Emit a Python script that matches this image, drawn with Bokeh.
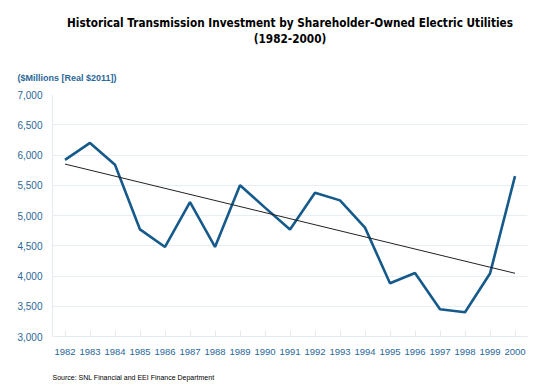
from bokeh.plotting import figure
from bokeh.models import Range1d, Title, NumeralTickFormatter
from bokeh.embed import file_html
from bokeh.resources import INLINE

years = [str(y) for y in range(1982, 2001)]
investment = [5920, 6200, 5840, 4770, 4480, 5220, 4480, 5500, 5130, 4770,
              5375, 5250, 4800, 3880, 4050, 3450, 3400, 4040, 5650]
trend_years = ["1982", "2000"]
trend_values = [5850, 4045]

title_line1 = "Historical Transmission Investment by Shareholder-Owned Electric Utilities"
title_line2 = "(1982-2000)"
y_label = "($Millions [Real $2011])"
source_text = "Source: SNL Financial and EEI Finance Department"

FONT = "Liberation Sans"
TFONT = "DejaVu Sans Condensed"
BLUE_TXT = "#2a6799"
LINE_BLUE = "#155a8a"

p = figure(x_range=years, y_range=Range1d(3000, 7000), width=560, height=385,
           output_backend="svg", toolbar_location=None,
           min_border_left=52, min_border_right=33, min_border_top=0, min_border_bottom=0)
p.outline_line_color = None
p.background_fill_color = "white"
p.border_fill_color = "white"
p.title = None

p.line(x=years, y=investment, line_color=LINE_BLUE, line_width=2.6)
p.line(x=trend_years, y=trend_values, line_color="#222222", line_width=1)

p.xgrid.grid_line_color = None
p.ygrid.grid_line_color = "#e8eff4"
p.ygrid.grid_line_width = 1

p.yaxis.ticker = [3000, 3500, 4000, 4500, 5000, 5500, 6000, 6500, 7000]
p.yaxis.formatter = NumeralTickFormatter(format="0,0")
for ax in (p.xaxis[0], p.yaxis[0]):
    ax.axis_line_color = "#e3eaf0"
    ax.major_label_text_font = FONT
    ax.major_label_text_color = BLUE_TXT
    ax.minor_tick_line_color = None
p.yaxis.major_label_text_font_size = "10px"
p.xaxis.major_label_text_font_size = "9.5px"
p.yaxis.major_tick_line_color = None
p.yaxis.major_label_standoff = 4
p.xaxis.major_tick_line_color = "#e3eaf0"
p.xaxis.major_tick_in = 6
p.xaxis.major_tick_out = 0
p.xaxis.major_label_standoff = 12

# panels above the frame, listed from the frame outward
p.add_layout(Title(text=y_label, align="left", offset=-35, standoff=24,
                   text_font=FONT, text_font_size="9px", text_font_style="bold",
                   text_color=BLUE_TXT), "above")
p.add_layout(Title(text=" ", standoff=0, text_font=FONT, text_font_size="8px"), "above")
p.add_layout(Title(text=title_line2, align="center", offset=-35, standoff=0, vertical_align="top",
                   text_font=TFONT, text_font_size="11.7px", text_font_style="bold",
                   text_color="black"), "above")
p.add_layout(Title(text=title_line1, align="center", offset=-35, standoff=4,
                   text_font=TFONT, text_font_size="11.7px", text_font_style="bold",
                   text_color="black"), "above")
p.add_layout(Title(text=" ", standoff=4, text_font=FONT, text_font_size="4px"), "above")

# panels below the frame, listed from the frame outward
p.add_layout(Title(text=" ", standoff=2, text_font=FONT, text_font_size="4px"), "below")
p.add_layout(Title(text=source_text, align="left", offset=0, standoff=10,
                   text_font=FONT, text_font_size="7px", text_font_style="normal",
                   text_color="black"), "below")

open("out.html", "w").write(file_html(p, INLINE))
